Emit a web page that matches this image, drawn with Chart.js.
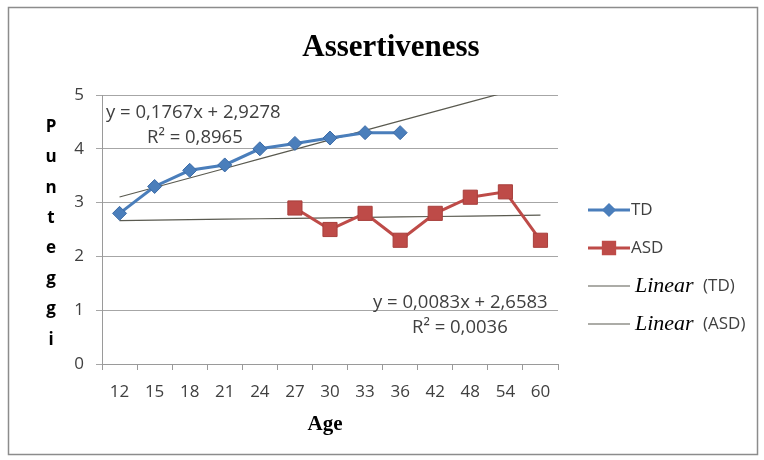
<!DOCTYPE html>
<html>
<head>
  <meta charset="UTF-8">
  <title>Assertiveness</title>
  <script src="https://cdn.jsdelivr.net/npm/chart.js"></script>
  <style>
    html, body { margin: 0; padding: 0; background: #fff; }
    #wrap { width: 764px; height: 460px; }
  </style>
</head>
<body>
  <div id="wrap"><canvas id="chart" width="764" height="460"></canvas></div>

  <script>
    // data
    const ages = ['12', '15', '18', '21', '24', '27', '30', '33', '36', '42', '48', '54', '60'];
    const tdValues  = [2.8, 3.3, 3.6, 3.7, 4.0, 4.1, 4.2, 4.3, 4.3, null, null, null, null];
    const asdValues = [null, null, null, null, null, 2.9, 2.5, 2.8, 2.3, 2.8, 3.1, 3.2, 2.3];
    const yTicks = [0, 1, 2, 3, 4, 5];

    // trendline coefficients as printed on the chart (x = category index, 1-based)
    const tdTrend  = [0.1767, 2.9278];
    const asdTrend = [0.0083, 2.6583];
    const tdLabel  = ['y = 0,1767x + 2,9278', 'R² = 0,8965'];
    const asdLabel = ['y = 0,0083x + 2,6583', 'R² = 0,0036'];

    const trendLine = (c) => ages.map((a, i) => c[0] * (i + 1) + c[1]);

    const BLUE = '#4a7ebb';
    const RED = '#be4b48';
    const TREND = '#5a5a50';
    const SANS = '"Open Sans", sans-serif';
    const SERIF = '"Liberation Serif", serif';

    // text, frame and legend drawn on top
    const decor = {
      id: 'decor',
      beforeDraw(chart) {
        const ctx = chart.ctx;
        ctx.save();
        ctx.fillStyle = '#fff';
        ctx.fillRect(0, 0, chart.width, chart.height);
        ctx.strokeStyle = '#8c8c8c';
        ctx.lineWidth = 1.5;
        ctx.strokeRect(8.5, 7.5, 749, 447);
        ctx.restore();
      },
      afterDraw(chart) {
        const ctx = chart.ctx;
        ctx.save();
        ctx.textBaseline = 'middle';

        // title
        ctx.fillStyle = '#000';
        ctx.textAlign = 'center';
        ctx.font = 'bold 31px ' + SERIF;
        ctx.fillText('Assertiveness', 391, 48);

        // x axis title
        ctx.font = 'bold 21px ' + SERIF;
        ctx.fillText('Age', 325, 425);

        // y axis title, one letter per line
        ctx.font = 'bold 17px ' + SANS;
        const letters = 'Punteggi'.split('');
        letters.forEach((ch, i) => ctx.fillText(ch, 51, 127 + i * 30.4));

        // trendline equations
        ctx.fillStyle = '#404040';
        ctx.font = '18.5px ' + SANS;
        ctx.textAlign = 'left';
        ctx.fillText(tdLabel[0], 106, 113);
        ctx.fillText(tdLabel[1], 147, 138);
        ctx.fillText(asdLabel[0], 373, 303);
        ctx.fillText(asdLabel[1], 412, 328);

        // legend
        const lx = 588, lw = 42;
        const items = [
          { text: 'TD', color: BLUE, style: 'rectRot', r: 5, y: 210 },
          { text: 'ASD', color: RED, style: 'rect', r: 8, y: 248 },
          { text: '(TD)', color: TREND, style: null, y: 286 },
          { text: '(ASD)', color: TREND, style: null, y: 324 }
        ];
        items.forEach(it => {
          ctx.strokeStyle = it.color;
          ctx.lineWidth = it.style ? 3 : 1.2;
          ctx.beginPath();
          ctx.moveTo(lx, it.y);
          ctx.lineTo(lx + lw, it.y);
          ctx.stroke();
          if (it.style) {
            ctx.fillStyle = it.color;
            Chart.helpers.drawPoint(ctx, { pointStyle: it.style, radius: it.r, borderWidth: 1 }, lx + lw / 2, it.y);
            ctx.fill();
            ctx.fillStyle = '#404040';
            ctx.font = '17px ' + SANS;
            ctx.fillText(it.text, lx + lw + 1, it.y);
          } else {
            ctx.fillStyle = '#000';
            ctx.font = 'italic 22px ' + SERIF;
            ctx.fillText('Linear', lx + lw + 5, it.y);
            ctx.fillStyle = '#404040';
            ctx.font = '17px ' + SANS;
            ctx.fillText(it.text, 703, it.y);
          }
        });
        ctx.restore();
      }
    };

    new Chart(document.getElementById('chart'), {
      type: 'line',
      data: {
        labels: ages,
        datasets: [
          {
            label: 'TD',
            data: tdValues,
            borderColor: BLUE,
            backgroundColor: BLUE,
            borderWidth: 3,
            pointStyle: 'rectRot',
            pointRadius: 7,
            pointBorderWidth: 1,
            pointBorderColor: '#3c6ca8',
            tension: 0,
            spanGaps: false
          },
          {
            label: 'ASD',
            data: asdValues,
            borderColor: RED,
            backgroundColor: RED,
            borderWidth: 3,
            pointStyle: 'rect',
            pointRadius: 10,
            pointBorderWidth: 1,
            pointBorderColor: '#a83f3c',
            tension: 0
          },
          {
            label: 'Linear (TD)',
            data: trendLine(tdTrend),
            borderColor: TREND,
            borderWidth: 1.2,
            pointRadius: 0,
            tension: 0
          },
          {
            label: 'Linear (ASD)',
            data: trendLine(asdTrend),
            borderColor: TREND,
            borderWidth: 1.2,
            pointRadius: 0,
            tension: 0
          }
        ]
      },
      options: {
        responsive: false,
        animation: false,
        layout: { padding: { left: 62, right: 206, top: 95, bottom: 56 } },
        plugins: {
          legend: { display: false },
          title: { display: false },
          tooltip: { enabled: false }
        },
        scales: {
          x: {
            offset: true,
            afterFit: (s) => { s.height = 40; },
            grid: { display: true, offset: true, drawOnChartArea: false, tickLength: 6, color: '#9a9a9a' },
            border: { color: '#9a9a9a', width: 1 },
            ticks: { color: '#404040', font: { family: SANS, size: 17 }, padding: 12, maxRotation: 0 }
          },
          y: {
            min: 0,
            max: 5,
            afterFit: (s) => { s.width = 40; },
            afterBuildTicks: (s) => { s.ticks = yTicks.map(v => ({ value: v })); },
            grid: { color: '#a6a6a6', lineWidth: 1, tickLength: 6 },
            border: { color: '#9a9a9a', width: 1 },
            ticks: { color: '#404040', font: { family: SANS, size: 17 }, padding: 12 }
          }
        }
      },
      plugins: [decor]
    });
  </script>
</body>
</html>
